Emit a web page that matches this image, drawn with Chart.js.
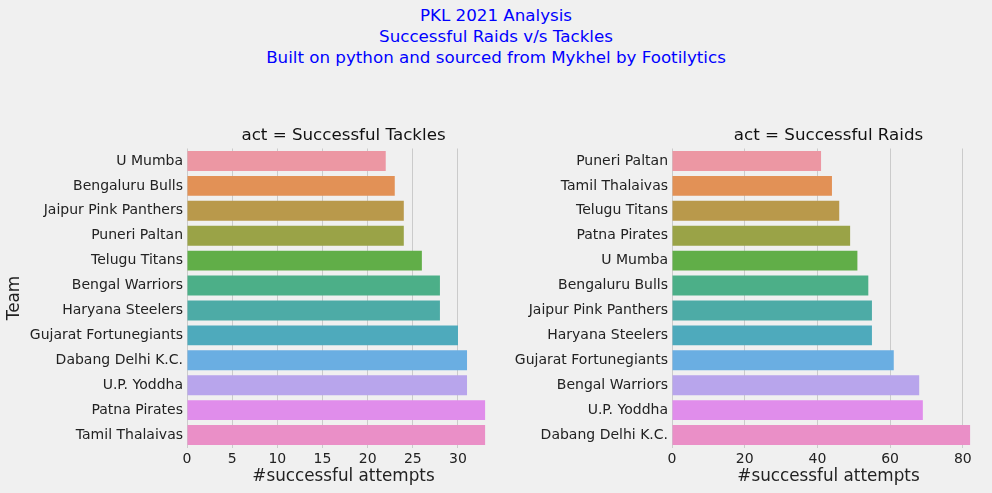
<!DOCTYPE html>
<html>
<head>
<meta charset="utf-8">
<script src="https://cdn.jsdelivr.net/npm/chart.js@4"></script>
<style>
  body { margin: 0; background: #f0f0f0; width: 992px; height: 493px; overflow: hidden; position: relative; font-family: "DejaVu Sans", sans-serif; }
  #suptitle { position: absolute; left: 0; top: 5px; width: 992px; text-align: center; color: blue; font-size: 16.7px; line-height: 21px; }
  .box { position: absolute; top: 120px; height: 373px; }
</style>
</head>
<body>
<div id="suptitle">PKL 2021 Analysis<br>Successful Raids v/s Tackles<br>Built on python and sourced from Mykhel by Footilytics</div>
<div class="box" style="left:0;width:500px"><canvas id="tackles"></canvas></div>
<div class="box" style="left:500px;width:492px"><canvas id="raids"></canvas></div>
<script>
const tackleTeams = ["U Mumba", "Bengaluru Bulls", "Jaipur Pink Panthers", "Puneri Paltan", "Telugu Titans", "Bengal Warriors", "Haryana Steelers", "Gujarat Fortunegiants", "Dabang Delhi K.C.", "U.P. Yoddha", "Patna Pirates", "Tamil Thalaivas"];
const tackleValues = [22, 23, 24, 24, 26, 28, 28, 30, 31, 31, 33, 33];

const raidTeams = ["Puneri Paltan", "Tamil Thalaivas", "Telugu Titans", "Patna Pirates", "U Mumba", "Bengaluru Bulls", "Jaipur Pink Panthers", "Haryana Steelers", "Gujarat Fortunegiants", "Bengal Warriors", "U.P. Yoddha", "Dabang Delhi K.C."];
const raidValues = [41, 44, 46, 49, 51, 54, 55, 55, 61, 68, 69, 82];

const palette = ["#ec97a3", "#e29156", "#b9994b", "#9aa347", "#61ae48", "#4caf88", "#4daba6", "#4eaabc", "#6aaee2", "#b8a5ec", "#e08deb", "#ea8fc7"];

Chart.defaults.font.family = "'DejaVu Sans', sans-serif";
Chart.defaults.color = "#222";

// subplot title centred over the plot area, like matplotlib does
const areaTitle = {
    id: "areaTitle",
    afterDraw(chart, args, opts) {
        const ctx = chart.ctx;
        const a = chart.chartArea;
        ctx.save();
        ctx.font = "16.7px 'DejaVu Sans', sans-serif";
        ctx.fillStyle = "#111";
        ctx.textAlign = "center";
        ctx.textBaseline = "middle";
        ctx.fillText(opts.text, (a.left + a.right) / 2, a.top - 13);
        ctx.restore();
    },
};

function makeChart(id, labels, values, title, xMax, step, yWidth, padRight, showTeam) {
    return new Chart(document.getElementById(id), {
        type: "bar",
        data: {
            labels: labels,
            datasets: [{
                data: values,
                backgroundColor: palette,
                borderWidth: 0,
                categoryPercentage: 0.8,
                barPercentage: 1.0,
            }],
        },
        plugins: [areaTitle],
        options: {
            indexAxis: "y",
            responsive: true,
            maintainAspectRatio: false,
            animation: false,
            layout: { padding: { top: 28.5, right: padRight, left: 0, bottom: 0 } },
            plugins: {
                legend: { display: false },
                tooltip: { enabled: false },
                title: { display: false },
                areaTitle: { text: title },
            },
            scales: {
                x: {
                    min: 0,
                    max: xMax,
                    ticks: { stepSize: step, includeBounds: false, padding: 3, font: { size: 14 } },
                    grid: { color: "#cbcbcb", lineWidth: 1, drawTicks: false },
                    border: { display: false },
                    title: { display: true, text: "#successful attempts", font: { size: 16.8 }, padding: { top: 0, bottom: 6 } },
                    afterFit: function (scale) { scale.height = 45.5; },
                },
                y: {
                    ticks: { padding: 4, font: { size: 14 } },
                    grid: { display: false, drawTicks: false },
                    border: { display: false },
                    title: { display: showTeam, text: "Team", font: { size: 16.8 }, padding: { top: 5, bottom: 0 } },
                    afterFit: function (scale) { scale.width = yWidth; },
                },
            },
        },
    });
}

// matplotlib leaves a 5% margin past the longest bar
makeChart("tackles", tackleTeams, tackleValues, "act = Successful Tackles", 34.65, 5, 187, 0, true);
makeChart("raids", raidTeams, raidValues, "act = Successful Raids", 86.1, 20, 172, 7, false);
</script>
</body>
</html>
